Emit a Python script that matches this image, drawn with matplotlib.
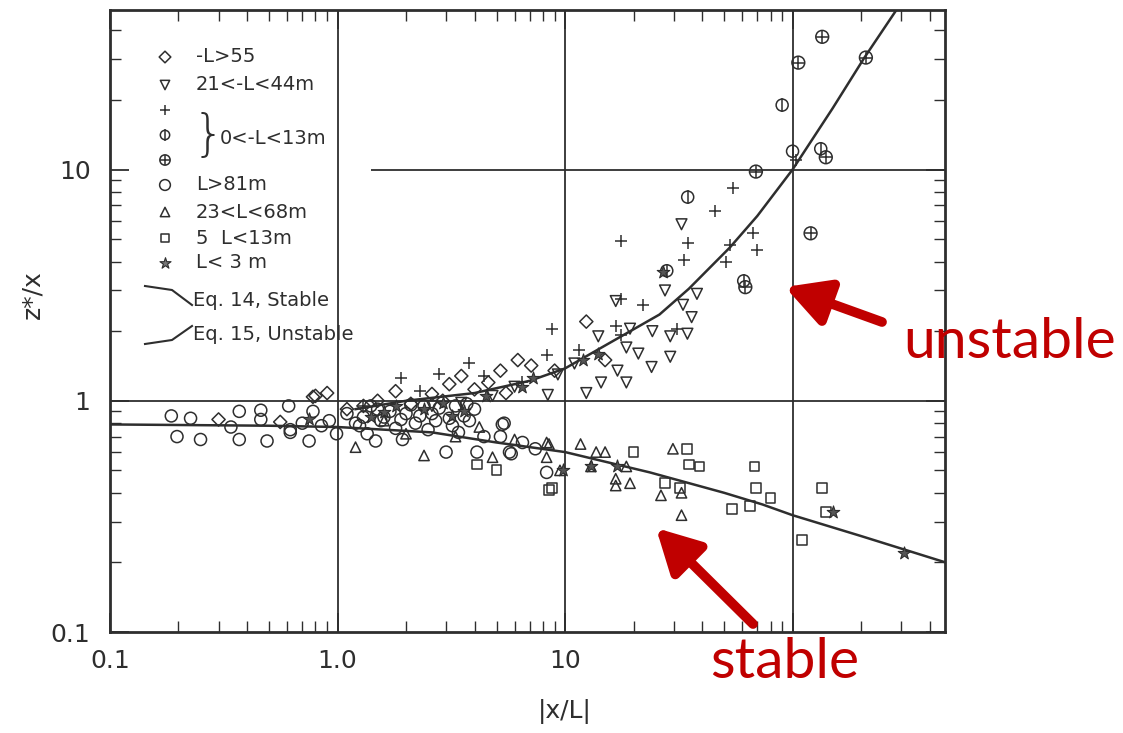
import matplotlib.pyplot as plt

# ==========================================================
# Data
# ==========================================================

# -L>55 (diamonds)
dia_x = [0.3, 0.56, 0.78, 0.8, 0.9, 1.3, 1.8, 2.6, 3.1, 3.5, 5.5, 5.2, 6.2, 7.1,
         12.4, 1.5, 2.1, 2.9, 4.0, 4.6, 1.1, 9.0, 15.0]
dia_y = [0.83, 0.81, 1.04, 1.05, 1.08, 0.95, 1.10, 1.07, 1.18, 1.28, 1.08, 1.35, 1.50,
         1.42, 2.20, 1.0, 0.97, 1.0, 1.12, 1.2, 0.92, 1.35, 1.5]

# 21<-L<44m (down triangles)
dtri_x = [27.5, 33, 24.2, 29, 34.5, 29, 24, 18.6, 14.4, 12.4, 18.6, 19.3, 17, 9.3,
          8.4, 32.5, 38, 16.7, 14, 6.0, 4.8, 3.5, 2.6, 11.0, 21.0, 36.0]
dtri_y = [3.0, 2.6, 2.0, 1.9, 1.95, 1.55, 1.4, 1.2, 1.2, 1.08, 1.7, 2.05, 1.35, 1.3,
          1.06, 5.8, 2.9, 2.7, 1.9, 1.15, 1.05, 0.98, 0.95, 1.45, 1.6, 2.3]

# 0<-L<13m (plus, circle with bar, circle with cross)
plus_x = [17.7, 34.6, 33.5, 45.6, 55, 67, 70, 53, 51, 22, 17.7, 16.8, 17.7, 8.8,
          11.5, 31, 4.4, 8.3, 1.9, 2.8, 3.8, 6.5, 1.3, 2.3, 104]
plus_y = [4.9, 4.8, 4.05, 6.6, 8.3, 5.3, 4.5, 4.7, 4.0, 2.6, 2.75, 2.1, 1.92, 2.05,
          1.66, 2.05, 1.28, 1.58, 1.25, 1.3, 1.45, 1.2, 0.95, 1.1, 11.0]
phi_x = [90, 34.6, 28, 61, 100, 133]
phi_y = [19.0, 7.6, 3.65, 3.3, 12.0, 12.3]
oplus_x = [135, 106, 210, 140, 69, 120, 62]
oplus_y = [37.5, 29, 30.5, 11.3, 9.8, 5.3, 3.1]

# L>81m (circles)
circ_x = [0.186, 0.226, 0.197, 0.25, 0.37, 0.46, 0.46, 0.37, 0.49, 0.61,
          0.62, 0.75, 0.92, 0.99, 0.78, 0.34, 0.62, 1.47, 1.93, 2.5,
          3.0, 5.4, 5.8, 4.1, 5.2, 5.3, 5.7, 8.3, 1.2, 1.35,
          1.6, 1.8, 2.2, 2.6, 3.4, 3.8, 4.4, 6.5, 7.4, 1.1,
          1.5, 2.0, 2.8, 3.2, 0.85, 0.7,
          1.3, 1.4, 1.7, 1.9, 2.3, 2.4, 2.7, 3.3, 3.6, 4.0, 1.25, 1.55, 2.1, 3.1, 3.7]
circ_y = [0.86, 0.84, 0.70, 0.68, 0.90, 0.91, 0.83, 0.68, 0.67, 0.95,
          0.73, 0.67, 0.82, 0.72, 0.90, 0.77, 0.75, 0.67, 0.68, 0.75,
          0.60, 0.80, 0.59, 0.60, 0.70, 0.79, 0.60, 0.49, 0.80, 0.72,
          0.85, 0.76, 0.80, 0.88, 0.73, 0.82, 0.70, 0.66, 0.62, 0.88,
          0.92, 0.88, 0.93, 0.78, 0.78, 0.80,
          0.85, 0.95, 0.90, 0.83, 0.86, 0.95, 0.82, 0.95, 0.86, 0.92, 0.78, 0.82, 0.96, 0.84, 0.97]

# 23<L<68m (up triangles)
utri_x = [11.7, 13.7, 15, 13, 18.6, 16.7, 16.7, 19.3, 26.4, 29.8, 32.5, 32.5, 8.5,
          9.5, 8.3, 4.2, 2.4, 4.8, 8.3, 1.2, 2.0, 3.3, 6.0, 1.6]
utri_y = [0.65, 0.60, 0.60, 0.52, 0.52, 0.46, 0.43, 0.44, 0.39, 0.62, 0.32, 0.40, 0.65,
          0.50, 0.57, 0.77, 0.58, 0.57, 0.66, 0.63, 0.72, 0.70, 0.68, 0.82]

# 5<L<13m (squares)
sq_x = [20, 34.5, 35, 39, 68, 69, 80, 54, 65, 27.5, 32, 135, 140, 110, 8.8, 8.5, 4.1, 5.0]
sq_y = [0.60, 0.62, 0.53, 0.52, 0.52, 0.42, 0.38, 0.34, 0.35, 0.44, 0.42, 0.42, 0.33,
        0.25, 0.42, 0.41, 0.53, 0.50]

# L<3m (stars)
star_x = [150, 310, 17, 13, 9.8, 7.2, 14, 27, 1.6, 3.2, 1.8, 2.4, 2.9, 0.75, 4.5,
          6.5, 12, 3.6, 1.4]
star_y = [0.33, 0.22, 0.52, 0.52, 0.50, 1.25, 1.6, 3.6, 0.89, 0.86, 0.95, 0.92, 0.98,
          0.83, 1.05, 1.15, 1.5, 0.9, 0.85]

# Eq. 14 (stable) and Eq. 15 (unstable) curves
stable_x = [0.1, 0.5, 1.0, 2.6, 5, 10, 23.6, 50, 73.8, 100, 200, 470]
stable_y = [0.79, 0.78, 0.77, 0.73, 0.66, 0.60, 0.49, 0.40, 0.356, 0.32, 0.26, 0.20]
unstable_x = [1.2, 2, 4, 7, 10, 13, 26, 35, 53, 70, 100, 150, 207, 290]
unstable_y = [0.92, 1.0, 1.08, 1.22, 1.38, 1.6, 2.36, 3.05, 4.6, 6.3, 10, 18.4, 30.5, 50]

# ==========================================================
# Figure
# ==========================================================

INK = "#2e2e2e"
RED = "#C00000"
W, H = 1123, 733
LEG_FS = 14

fig = plt.figure(figsize=(W / 100, H / 100), dpi=100)
ax = fig.add_axes([110 / W, 1 - 632 / H, 835 / W, 622 / H])
ax.set_xscale("log")
ax.set_yscale("log")
ax.set_xlim(0.1, 10 ** 2.67)
ax.set_ylim(0.1, 10 ** 1.69)

# grid lines
for gx in [1, 10, 100]:
    ax.axvline(gx, color=INK, lw=1.3, zorder=1)
ax.axhline(1, color=INK, lw=1.3, zorder=1)
ax.hlines(10, 1.4, 10 ** 2.67, color=INK, lw=1.3, zorder=1)

# curves
ax.plot(stable_x, stable_y, color=INK, lw=1.8, zorder=2)
ax.plot(unstable_x, unstable_y, color=INK, lw=1.8, zorder=2)

mk = dict(facecolors="none", edgecolors=INK, linewidths=1.1, zorder=3)
ax.scatter(circ_x, circ_y, marker="o", s=75, **mk)
ax.scatter(dia_x, dia_y, marker="D", s=45, **mk)
ax.scatter(dtri_x, dtri_y, marker="v", s=60, **mk)
ax.scatter(utri_x, utri_y, marker="^", s=55, **mk)
ax.scatter(sq_x, sq_y, marker="s", s=50, **mk)
ax.scatter(plus_x, plus_y, marker="+", s=70, color=INK, linewidths=1.1, zorder=3)
ax.scatter(phi_x, phi_y, marker="o", s=75, **mk)
ax.scatter(phi_x, phi_y, marker="|", s=110, color=INK, linewidths=1.1, zorder=3)
ax.scatter(oplus_x, oplus_y, marker="o", s=85, **mk)
ax.scatter(oplus_x, oplus_y, marker="+", s=75, color=INK, linewidths=1.1, zorder=3)
ax.scatter(star_x, star_y, marker="*", s=90, facecolors="#555555", edgecolors=INK,
           linewidths=0.8, zorder=3)

# axes styling
for sp in ax.spines.values():
    sp.set_linewidth(2)
    sp.set_color(INK)
ax.tick_params(which="both", direction="in", top=True, right=True, colors=INK)
ax.tick_params(which="major", length=14, width=1.3, labelsize=18, pad=12)
ax.tick_params(which="minor", length=8, width=1.0)
ax.set_xticks([0.1, 1, 10, 100], ["0.1", "1.0", "10", ""])
ax.set_yticks([0.1, 1, 10], ["0.1", "1", "10"])
ax.tick_params(axis="y", which="major", pad=14)

fig.text(565 / W, 1 - 712 / H, "|x/L|", fontsize=18, ha="center", va="center", color=INK)
fig.text(32 / W, 1 - 295 / H, "z*/x", fontsize=18, rotation=90, ha="center", va="center",
         color=INK)

# ==========================================================
# Legend (hand placed like the original)
# ==========================================================

def ax_pos(px, py):
    return (px - 110) / 835, (632 - py) / 622

rows = [
    (57, "D", 35, "-L>55"),
    (85, "v", 45, "21<-L<44m"),
    (185, "o", 60, "L>81m"),
    (212, "^", 45, "23<L<68m"),
    (238, "s", 40, "5  L<13m"),
]
for py, m, s, label in rows:
    lx, ly = ax_pos(165, py)
    ax.scatter([lx], [ly], marker=m, s=s, transform=ax.transAxes, clip_on=False, **mk)
    tx, ty = ax_pos(196, py)
    ax.text(tx, ty, label, transform=ax.transAxes, fontsize=LEG_FS, va="center", color=INK)

lx, ly = ax_pos(165, 110)
ax.scatter([lx], [ly], marker="+", s=60, color=INK, linewidths=1.1, transform=ax.transAxes)
lx, ly = ax_pos(165, 135)
ax.scatter([lx], [ly], marker="o", s=45, transform=ax.transAxes, **mk)
ax.scatter([lx], [ly], marker="|", s=70, color=INK, linewidths=1.1, transform=ax.transAxes)
lx, ly = ax_pos(165, 160)
ax.scatter([lx], [ly], marker="o", s=55, transform=ax.transAxes, **mk)
ax.scatter([lx], [ly], marker="+", s=50, color=INK, linewidths=1.1, transform=ax.transAxes)
bx, by = ax_pos(208, 136)
ax.text(bx, by, "}", transform=ax.transAxes, fontsize=36, ha="center", va="center",
        color=INK, fontweight="light")
tx, ty = ax_pos(220, 138)
ax.text(tx, ty, "0<-L<13m", transform=ax.transAxes, fontsize=LEG_FS, va="center", color=INK)

lx, ly = ax_pos(165, 263)
ax.scatter([lx], [ly], marker="*", s=70, facecolors="#777777", edgecolors=INK,
           linewidths=0.8, transform=ax.transAxes)
tx, ty = ax_pos(196, 263)
ax.text(tx, ty, "L< 3 m", transform=ax.transAxes, fontsize=LEG_FS, va="center", color=INK)

# curve samples in the legend
p0, p1, p2 = ax_pos(145, 286), ax_pos(172, 290), ax_pos(192, 305)
ax.plot([p0[0], p1[0], p2[0]], [p0[1], p1[1], p2[1]], color=INK, lw=1.5,
        transform=ax.transAxes)
tx, ty = ax_pos(193, 300)
ax.text(tx, ty, "Eq. 14, Stable", transform=ax.transAxes, fontsize=LEG_FS, va="center",
        color=INK)
p0, p1, p2 = ax_pos(145, 344), ax_pos(172, 340), ax_pos(192, 326)
ax.plot([p0[0], p1[0], p2[0]], [p0[1], p1[1], p2[1]], color=INK, lw=1.5,
        transform=ax.transAxes)
tx, ty = ax_pos(193, 335)
ax.text(tx, ty, "Eq. 15, Unstable", transform=ax.transAxes, fontsize=LEG_FS, va="center",
        color=INK)

# ==========================================================
# Red annotations
# ==========================================================

def fig_pos(px, py):
    return px / W, 1 - py / H

arrow = dict(arrowstyle="-|>,head_length=1.3,head_width=0.7", lw=7, color=RED,
             mutation_scale=20, shrinkA=0, shrinkB=0)
ax.annotate("", xy=fig_pos(785, 287), xycoords="figure fraction",
            xytext=fig_pos(882, 322), textcoords="figure fraction",
            arrowprops=arrow, annotation_clip=False)
ax.annotate("", xy=fig_pos(656, 528), xycoords="figure fraction",
            xytext=fig_pos(753, 624), textcoords="figure fraction",
            arrowprops=arrow, annotation_clip=False)

fig.text(*fig_pos(903, 358), "unstable", fontsize=41, color=RED, family="Lato",
         va="baseline")
fig.text(*fig_pos(710, 678), "stable", fontsize=41, color=RED, family="Lato",
         va="baseline")

fig.savefig("out.png", dpi=100)
